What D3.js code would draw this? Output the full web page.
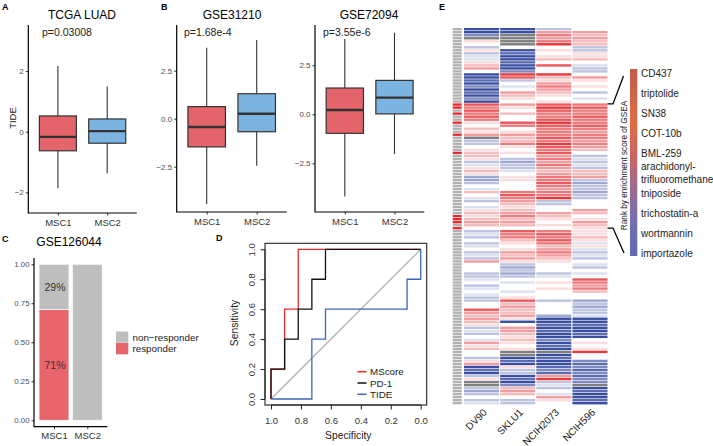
<!DOCTYPE html>
<html><head><meta charset="utf-8">
<script src="https://cdn.jsdelivr.net/npm/d3@7"></script>
<style>body{margin:0;background:#fff}svg{display:block}</style>
</head><body><svg id="c" width="713" height="446"></svg>
<script>
// ---------------- DATA ----------------
const groups = ["MSC1", "MSC2"];
// box stats: [lower whisker, Q1, median, Q3, upper whisker]
const tcgaBox = [[-1.87, -0.63, -0.17, 0.52, 2.17], [-1.37, -0.38, 0.02, 0.42, 1.49]];
const gse31210Box = [[-4.44, -1.47, -0.43, 0.63, 3.70], [-2.45, -0.68, 0.26, 1.30, 4.10]];
const gse72094Box = [[-4.20, -0.97, 0.22, 1.34, 3.84], [-2.03, 0.02, 0.85, 1.73, 4.16]];
const tcgaTicks = [-2, 0, 2];
const gseTicks = [-2.5, 0, 2.5];

const respKeys = ["responder", "non−responder"];
const responder = [0.71, 0.0];
const nonResponder = [0.29, 1.0];
const fracTicks = [0, 0.25, 0.5, 0.75, 1];

const rocTicks = [0, 0.2, 0.4, 0.6, 0.8, 1.0];
const rocNames = ["MScore", "PD-1", "TIDE"];
const mscoreSpec = [1, 1, 0.909, 0.909, 0.818, 0.818, 0];
const mscoreSens = [0, 0.2, 0.2, 0.6, 0.6, 1, 1];
const pd1Spec = [1, 1, 0.909, 0.909, 0.818, 0.818, 0.727, 0.727, 0.636, 0.636, 0];
const pd1Sens = [0, 0.2, 0.2, 0.4, 0.4, 0.6, 0.6, 0.8, 0.8, 1, 1];
const tideSpec = [1, 0.727, 0.727, 0.636, 0.636, 0.091, 0.091, 0, 0];
const tideSens = [0, 0, 0.4, 0.4, 0.6, 0.6, 0.8, 0.8, 1];

const cellLines = ["DV90", "SKLU1", "NCIH2073", "NCIH596"];
const N = null;
const dv90 = [-3,-3,-2,N,0.5, 0,-1,0.5,-1,-0.5, -0.5,0.5,1,1.5,0, -3,-3,-2.5,-3,-2, -3,-2.5,-3,-2,-3,
  2.5,2,2.5,2,2.5, 2,0.5,0,1,0.5, 1.5,N,-1,-1,0, 0.5,1,1,0.5,-1, -0.5,0.5,1,0.5,-1.5,
  -1.5,-1,0,-0.5,1, 0,-0.5,-1,0,-0.5, 0.5,1,0.5,1,1.5, 1,0,-1,-0.5,-1, 0,-1,-0.5,0,-1,
  -0.5,-1,1.5,0,0, 0,-1,-1,-0.5,0, -1,-0.5,0,-0.5,-1, -1,0,0,2.5,1.5, 1,1.5,1,0.5,-1,
  -0.5,-1,0,-0.5,1.5, 0.5,1,0,0,-1, 0.5,1.5,-3,-2.5,-3, -1,0.5,N,N,-1, -1.5,-1,0,-1,-0.5];
const sklu1 = [-3,-3,N,N,N, N,0,-3,-2.5,-3, -3,-2.5,-3,-3,-2, 3,2.5,-1,0,-0.5, 0,1.5,1,0.5,0,
  1.5,0.5,0,1,0, 0,2.5,2,0,0.5, 1.5,1,1,2,0.5, 0,0.5,0,-1,-1.5, -1,-1,-0.5,0,0.5,
  0.5,0,0,0,2, 2.5,2,1.5,1,0.5, 1,1.5,2,1,1.5, 1,0,2.5,2,2, 1,0.5,0,0.5,1.5,
  1,1.5,0.5,-1,-1.5, -1,-1.5,-1,0,-0.5, 0,0,-0.5,0,0.5, 2.5,1,1.5,1,1, 1.5,0.5,-3,0,1.5,
  1.5,1,0.5,1,0.5, 0,0.5,N,N,-3, -2.5,-3,0.5,-1,-1, -3,-2.5,-3,-2,1, 1.5,1,0,-1,-1];
const ncih2073 = [-1,1.5,2,1.5,2, 3,0,0.5,0,0.5, 1,0,2.5,0,0, 3,1,0.5,1.5,2, 1.5,1,0.5,0,0.5,
  2.5,3,2.5,2,2, 2.5,3,2.5,2,2, 2,2.5,2,3,2.5, 2,2.5,1.5,2,1.5, 2,1.5,1,1.5,2,
  2,2.5,2,1.5,2, 2,3,-1,-1,0, 0,1.5,1,0.5,0, 0.5,0,2,2.5,2, 2.5,2,1,1.5,2,
  1.5,1,0.5,0,0, 0,-1,-0.5,0,0.5, 0,0.5,0,0,0, -1,0,0,0,0, -1.5,-3,-3,-2.5,-3,
  -2.5,-3,-3,-2,-3, -2.5,-3,N,-3,-2.5, -3,-3,-2.5,-2,-2.5, 1.5,3,-1,-0.5,-1, 0,-0.5,1.5,0.5,0];
const ncih596 = [0,1.5,1,1.5,1, 1,-1,-1,0.5,0.5, 1,0,-0.5,-1,-1, 0,1.5,0.5,0,0.5, 0,-1,0,-0.5,0,
  2,2.5,2,2,2.5, 2,2,2.5,2,1.5, 2,2,1.5,2,1.5, 1,0,-1,-0.5,-1, -0.5,-1,1,1,1.5,
  -1,-1.5,-1,-1,-1.5, -1,-1,0,0,0, 1.5,1,0,0.5,1.5, 1,0.5,0.5,0.5,1, 0.5,-0.5,0.5,-0.5,-1,
  -0.5,-1,0,-0.5,-1, 0,-0.5,0,2.5,2, 1.5,2,1,0,0, -1.5,-1,-1.5,-1,-1, -0.5,-3,-3,-2.5,-3,
  -3,-2.5,-3,0,0.5, 0,0.5,3,0,0, -2,-2.5,-2,-2.5,-2, -2.5,-2,-2,N,-3, -2.5,-3,-3,-2.5,-3];
const heatValues = [dv90, sklu1, ncih2073, ncih596];
const highlightRows = [25, 26, 28, 31, 35, 41, 62, 63, 64, 66];
const drugs = ["CD437", "triptolide", "SN38", "COT-10b", "BML-259",
  "arachidonyl-\ntrifluoromethane", "tniposide", "trichostatin-a", "wortmannin", "importazole"];

// ---------------- DRAW ----------------
const FONT = '"Liberation Sans", Arial, Helvetica, sans-serif';
const svg = d3.select("#c").attr("font-family", FONT);
const COL1 = "#E5636A", COL2 = "#7DB3E1";

function txt(t, x, y, size, opt = {}) {
  const e = svg.append("text").attr("x", x).attr("y", y).attr("font-size", size).text(t)
    .attr("fill", opt.fill || "#000");
  if (opt.anchor) e.attr("text-anchor", opt.anchor);
  if (opt.bold) e.attr("font-weight", "bold");
  if (opt.rotate != null) e.attr("transform", `rotate(${opt.rotate},${x},${y})`);
  return e;
}

function boxPanel(o) {
  const g = svg.append("g");
  const x = d3.scalePoint().domain(groups).range([o.left, o.right]).padding(0.6);
  const bw = x.step() * 0.75;
  const y = d3.scaleLinear().domain(o.domain).range([o.bottom, o.top]);
  const ay = g.append("g").attr("transform", `translate(${o.left},0)`)
    .call(d3.axisLeft(y).tickValues(o.ticks).tickSize(2.5).tickPadding(2).tickFormat(o.fmt));
  ay.attr("font-family", FONT).attr("font-size", 8);
  ay.select(".domain").remove();
  ay.selectAll(".tick line").attr("stroke", "#333");
  ay.selectAll(".tick text").attr("fill", "#4d4d4d");
  const ax = g.append("g").attr("transform", `translate(0,${o.bottom})`)
    .call(d3.axisBottom(x).tickSize(2.5).tickPadding(4));
  ax.attr("font-family", FONT).attr("font-size", 9.5);
  ax.select(".domain").remove();
  ax.selectAll(".tick line").attr("stroke", "#333");
  ax.selectAll(".tick text").attr("fill", "#333");
  g.append("path").attr("d", `M${o.left},${o.top}V${o.bottom}H${o.right}`)
    .attr("fill", "none").attr("stroke", "#000").attr("stroke-width", 1.2);
  const cols = [COL1, COL2];
  o.data.forEach((d, i) => {
    const cx = x(groups[i]);
    g.append("line").attr("x1", cx).attr("x2", cx).attr("y1", y(d[4])).attr("y2", y(d[0]))
      .attr("stroke", "#333").attr("stroke-width", 1.1);
    g.append("rect").attr("x", cx - bw / 2).attr("width", bw)
      .attr("y", y(d[3])).attr("height", y(d[1]) - y(d[3]))
      .attr("fill", cols[i]).attr("stroke", "#333").attr("stroke-width", 1.2);
    g.append("line").attr("x1", cx - bw / 2).attr("x2", cx + bw / 2).attr("y1", y(d[2])).attr("y2", y(d[2]))
      .attr("stroke", "#333").attr("stroke-width", 2.4);
  });
  txt(o.title, o.titleX, 19, 12, { anchor: "middle" });
  txt(o.p, o.pX, 35.5, 10.5, { fill: "#222" });
}

// Panel A
txt("A", 2, 10, 9, { bold: true });
boxPanel({ left: 28.3, right: 136.8, top: 25, bottom: 213, domain: [-2.683, 3.521], ticks: tcgaTicks,
  fmt: d3.format("d"), data: tcgaBox, title: "TCGA LUAD", titleX: 82, p: "p=0.03008", pX: 42 });
txt("TIDE", 15.5, 118, 9.5, { anchor: "middle", rotate: -90, fill: "#222" });

// Panel B
txt("B", 161, 10, 9, { bold: true });
boxPanel({ left: 176.7, right: 286.7, top: 25, bottom: 212, domain: [-4.86, 4.88], ticks: gseTicks,
  fmt: d3.format(".1f"), data: gse31210Box, title: "GSE31210", titleX: 232, p: "p=1.68e-4", pX: 184 });
boxPanel({ left: 315, right: 424.3, top: 25, bottom: 212, domain: [-4.985, 4.556], ticks: gseTicks,
  fmt: d3.format(".1f"), data: gse72094Box, title: "GSE72094", titleX: 369, p: "p=3.55e-6", pX: 323 });

// Panel C
txt("C", 2, 242, 9, { bold: true });
txt("GSE126044", 69, 246, 12, { anchor: "middle" });
{
  const g = svg.append("g");
  const left = 34, right = 107.3, top = 258, bottom = 426.7;
  const x = d3.scalePoint().domain(groups).range([left, right]).padding(0.6);
  const bw = x.step() * 0.9;
  const y = d3.scaleLinear().domain([-0.041, 1.04]).range([bottom, top]);
  const ay = g.append("g").attr("transform", `translate(${left},0)`)
    .call(d3.axisLeft(y).tickValues(fracTicks).tickSize(2.5).tickPadding(2).tickFormat(d3.format(".2f")));
  ay.attr("font-family", FONT).attr("font-size", 7.8);
  ay.select(".domain").remove();
  ay.selectAll(".tick line").attr("stroke", "#333");
  ay.selectAll(".tick text").attr("fill", "#4d4d4d");
  const ax = g.append("g").attr("transform", `translate(0,${bottom})`)
    .call(d3.axisBottom(x).tickSize(2.5).tickPadding(3.5));
  ax.attr("font-family", FONT).attr("font-size", 9.5);
  ax.select(".domain").remove();
  ax.selectAll(".tick line").attr("stroke", "#333");
  ax.selectAll(".tick text").attr("fill", "#333");
  g.append("path").attr("d", `M${left},${top}V${bottom}H${right}`)
    .attr("fill", "none").attr("stroke", "#000").attr("stroke-width", 1.2);
  const rows = groups.map((k, i) => ({ grp: k, "responder": responder[i], "non−responder": nonResponder[i] }));
  const stack = d3.stack().keys(respKeys)(rows);
  const fills = { "responder": "#E8666B", "non−responder": "#BEBEBE" };
  stack.forEach(layer => {
    layer.forEach(d => {
      if (d[1] - d[0] <= 0) return;
      g.append("rect").attr("x", x(d.data.grp) - bw / 2).attr("width", bw)
        .attr("y", y(d[1])).attr("height", y(d[0]) - y(d[1]))
        .attr("fill", fills[layer.key]).attr("stroke", "#fff").attr("stroke-width", 0.8);
    });
  });
  const s0 = stack[0][0], s1 = stack[1][0];
  txt(Math.round(nonResponder[0] * 100) + "%", x("MSC1") + 1, y((s1[0] + s1[1]) / 2) + 4, 10.5, { anchor: "middle", fill: "#333" });
  txt(Math.round(responder[0] * 100) + "%", x("MSC1") + 1, y((s0[0] + s0[1]) / 2) + 4, 10.5, { anchor: "middle", fill: "#333" });
  const legItems = [["non−responder", "#BEBEBE"], ["responder", "#E8666B"]];
  legItems.forEach((d, i) => {
    g.append("rect").attr("x", 116).attr("y", 331.5 + i * 11.5).attr("width", 12.3).attr("height", 11.3).attr("fill", d[1]);
    txt(d[0], 132.5, 340.5 + i * 11.5, 9.8, { fill: "#222" });
  });
}

// Panel D
txt("D", 216, 241, 9, { bold: true });
{
  const g = svg.append("g");
  const x = d3.scaleLinear().domain([1.04, -0.04]).range([265, 426.7]);
  const y = d3.scaleLinear().domain([-0.04, 1.04]).range([405, 243.3]);
  g.append("line").attr("x1", x(1)).attr("y1", y(0)).attr("x2", x(0)).attr("y2", y(1))
    .attr("stroke", "#a8a8a8").attr("stroke-width", 1.1);
  const line = d3.line().x(d => x(d[0])).y(d => y(d[1]));
  const series = [
    [d3.zip(mscoreSpec, mscoreSens), "#ee2a2a"],
    [d3.zip(pd1Spec, pd1Sens), "#111"],
    [d3.zip(tideSpec, tideSens), "#3f66b8"]];
  series.forEach(s => g.append("path").attr("d", line(s[0])).attr("fill", "none")
    .attr("stroke", s[1]).attr("stroke-width", 1.3));
  g.append("rect").attr("x", 265).attr("y", 243.3).attr("width", 161.7).attr("height", 161.7)
    .attr("fill", "none").attr("stroke", "#222").attr("stroke-width", 1.1);
  const ax = g.append("g").attr("transform", "translate(0,405)")
    .call(d3.axisBottom(x).tickValues(rocTicks).tickSize(4.5).tickPadding(7.5).tickFormat(d3.format(".1f")));
  ax.attr("font-family", FONT).attr("font-size", 9.5);
  ax.select(".domain").attr("d", `M${x(1)},0H${x(0)}`).attr("stroke", "#222");
  ax.selectAll(".tick line").attr("stroke", "#222");
  ax.selectAll(".tick text").attr("fill", "#333");
  const ay = g.append("g").attr("transform", "translate(265,0)")
    .call(d3.axisLeft(y).tickValues(rocTicks).tickSize(4.5).tickFormat(d3.format(".1f")));
  ay.attr("font-family", FONT).attr("font-size", 9.5);
  ay.select(".domain").attr("d", `M0,${y(0)}V${y(1)}`).attr("stroke", "#222");
  ay.selectAll(".tick line").attr("stroke", "#222");
  ay.selectAll(".tick text").attr("fill", "#333").attr("x", -10).attr("dy", 0)
    .attr("text-anchor", "middle").attr("transform", "rotate(-90,-10,0)");
  txt("Specificity", 348.3, 439, 10.3, { anchor: "middle", fill: "#222" });
  txt("Sensitivity", 237.5, 323, 10.3, { anchor: "middle", rotate: -90, fill: "#222" });
  const legCols = ["#ee2a2a", "#111", "#3f66b8"];
  rocNames.forEach((n, i) => {
    const ly = 371.7 + i * 11.3;
    g.append("line").attr("x1", 357.5).attr("x2", 366.5).attr("y1", ly).attr("y2", ly)
      .attr("stroke", legCols[i]).attr("stroke-width", 1.5);
    txt(n, 370, ly + 3.5, 9.8, { fill: "#222" });
  });
}

// Panel E
txt("E", 439, 10, 9, { bold: true });
{
  const g = svg.append("g");
  const rowsIdx = d3.range(dv90.length);
  const hy = d3.scaleBand().domain(rowsIdx).range([28, 405]);
  const hx = d3.scaleBand().domain(cellLines).range([464, 607.5]).paddingInner(0.03);
  const heatColor = d3.scaleLinear().domain([-3, 0, 3]).range(["#3b4fa0", "#ffffff", "#e4393e"]);
  const rh = hy.bandwidth();
  rowsIdx.forEach(i => {
    g.append("rect").attr("x", 452.7).attr("width", 9).attr("y", hy(i)).attr("height", rh - 0.7)
      .attr("fill", highlightRows.includes(i) ? "#e8262b" : "#b0b0b0");
  });
  cellLines.forEach((c, ci) => {
    heatValues[ci].forEach((v, i) => {
      g.append("rect").attr("x", hx(c)).attr("width", hx.bandwidth()).attr("y", hy(i)).attr("height", rh - 0.6)
        .attr("fill", v === null ? "#7f7f7f" : heatColor(v));
    });
    txt(c, hx(c) + hx.bandwidth() / 2 + 6, 413, 10, { anchor: "end", rotate: -45, fill: "#222" });
  });
  const bl = d3.line();
  g.append("path").attr("d", bl([[607.5, hy(25) + 0.5], [613, hy(25) + 0.5], [623.5, 76]]))
    .attr("fill", "none").attr("stroke", "#000").attr("stroke-width", 1.3);
  g.append("path").attr("d", bl([[607.5, hy(66) + 1], [613, hy(66) + 1], [624, 253]]))
    .attr("fill", "none").attr("stroke", "#000").attr("stroke-width", 1.3);
  const defs = svg.append("defs");
  const grad = defs.append("linearGradient").attr("id", "rankGrad").attr("x1", 0).attr("x2", 0).attr("y1", 0).attr("y2", 1);
  [[0, "#c45c4a"], [0.3, "#de6e42"], [0.45, "#cc6660"], [0.62, "#a26a8c"], [0.8, "#7770ab"], [1, "#5b6bb5"]]
    .forEach(s => grad.append("stop").attr("offset", s[0]).attr("stop-color", s[1]));
  g.append("rect").attr("x", 630).attr("y", 69).attr("width", 7.3).attr("height", 187).attr("fill", "url(#rankGrad)");
  txt("Rank by enrichment score of GSEA", 626.5, 165.5, 8.2, { anchor: "middle", rotate: -90, fill: "#222" });
  const dy = d3.scalePoint().domain(d3.range(drugs.length)).range([73, 253]);
  drugs.forEach((d, i) => {
    const parts = d.split("\n");
    parts.forEach((p, j) => {
      const yy = dy(i) + 3.6 + (j - (parts.length - 1) / 2) * 12.5;
      txt(p, 641, yy, 10, { fill: "#222" });
    });
  });
}
</script></body></html>
